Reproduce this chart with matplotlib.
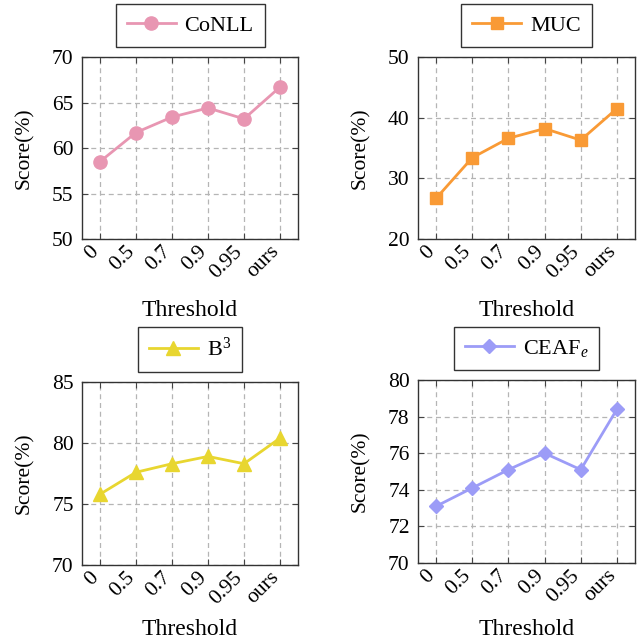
import matplotlib
matplotlib.use("Agg")
import matplotlib.pyplot as plt
from matplotlib.transforms import ScaledTranslation

plt.rcParams['font.family'] = ['Liberation Serif', 'DejaVu Serif']
plt.rcParams['mathtext.fontset'] = 'custom'
plt.rcParams['mathtext.rm'] = 'Liberation Serif'
plt.rcParams['mathtext.it'] = 'Liberation Serif:italic'

thresholds = ["0", "0.5", "0.7", "0.9", "0.95", "ours"]
conll = [58.5, 61.7, 63.4, 64.4, 63.2, 66.7]
muc = [26.7, 33.4, 36.6, 38.2, 36.3, 41.5]
b3 = [75.8, 77.6, 78.3, 78.9, 78.3, 80.4]
ceafe = [73.1, 74.1, 75.1, 76.0, 75.1, 78.4]

W, H = 641, 644
fig = plt.figure(figsize=(W / 100, H / 100), dpi=100)

panels = [
    # (values, label, color, marker, msize, ylim, yticks, box(left,right,top,bottom), xlabel gap)
    (conll, "CoNLL", "#E896B2", "o", 9.5, (50, 70), [50, 55, 60, 65, 70], (82, 298, 57, 239), 61),
    (muc, "MUC", "#F99A35", "s", 9, (20, 50), [20, 30, 40, 50], (418, 635, 57, 239), 61),
    (b3, "B$^{3}$", "#E8D630", "^", 9.5, (70, 85), [70, 75, 80, 85], (82, 298, 382, 565), 54),
    (ceafe, "CEAF$_{e}$", "#9C9CF7", "D", 7.5, (70, 80), [70, 72, 74, 76, 78, 80], (418, 635, 380, 563), 56),
]

for vals, lab, col, mk, ms, ylim, yt, (l, r, t, b), xgap in panels:
    ax = fig.add_axes([l / W, 1 - b / H, (r - l) / W, (b - t) / H])
    x = list(range(len(thresholds)))
    ax.plot(x, vals, color=col, marker=mk, markersize=ms, linewidth=2.0,
            markeredgecolor=col, label=lab, zorder=3)
    ax.set_xlim(-0.5, len(thresholds) - 0.5)
    ax.set_ylim(*ylim)
    ax.set_yticks(yt)
    ax.set_xticks(x)
    ax.set_xticklabels(thresholds, rotation=45, ha='right', va='center',
                       rotation_mode='anchor')
    ax.tick_params(axis='both', direction='in', length=4, width=0.8,
                   color='#444444', labelsize=15.5, top=True, right=True)
    ax.tick_params(axis='y', pad=6)
    ax.tick_params(axis='x', pad=7)
    off = ScaledTranslation(-4 / 100, 0, fig.dpi_scale_trans)
    for lbl in ax.get_xticklabels():
        lbl.set_transform(lbl.get_transform() + off)
    ax.grid(True, color='#b5b5b5', linestyle=(0, (4, 3)), linewidth=0.9)
    ax.set_axisbelow(True)
    for s in ax.spines.values():
        s.set_color('#333333')
        s.set_linewidth(1.0)
    ax.set_ylabel("Score(%)", fontsize=15.5, va='center')
    ax.yaxis.set_label_coords(-58 / (r - l), 0.5)
    ax.set_xlabel("Threshold", fontsize=17, va='top')
    ax.xaxis.set_label_coords(0.5, -xgap / (b - t))
    leg = ax.legend(loc='lower center', bbox_to_anchor=(0.5, 1 + 10 / (b - t)),
                    borderaxespad=0, fontsize=16, frameon=True, fancybox=False,
                    edgecolor='black', handlelength=2.2, handletextpad=0.4,
                    borderpad=0.5)
    leg.get_frame().set_linewidth(1.0)

fig.savefig("out.png", dpi=100)
